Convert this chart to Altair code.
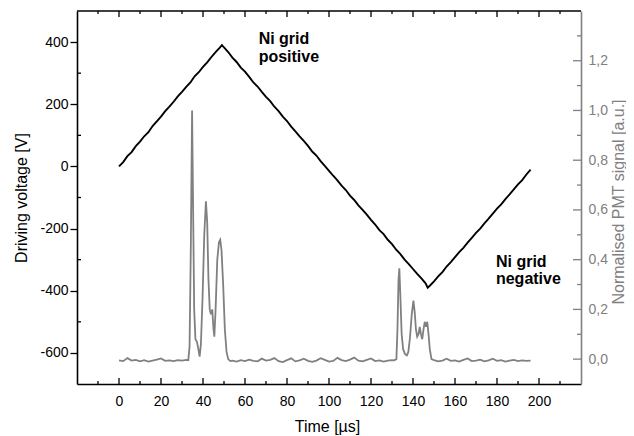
import altair as alt
import pandas as pd

# ---------------- data ----------------
# Driving voltage (black trace)
volt_t = list(range(0, 49, 2)) + [49] + list(range(50, 147, 2)) + [147] + list(range(148, 197, 2))
volt_v = [0, 14, 33, 46, 65, 80, 97, 110, 130, 145, 160, 178, 192, 208, 225, 240, 256, 270, 290, 303,
          320, 335, 352, 368, 382,
          390,
          383, 368, 350, 336, 318, 305, 288, 270, 257, 240, 224, 210, 192, 178, 160, 146, 128, 113, 97, 82,
          66, 48, 35, 17, 2, -14, -30, -45, -62, -76, -94, -108, -125, -140, -155, -172, -187, -205, -218,
          -236, -250, -268, -282, -300, -314, -330, -346, -360, -376,
          -390,
          -384, -370, -354, -340, -322, -308, -292, -276, -262, -245, -230, -214, -200, -183, -168, -152,
          -136, -122, -105, -90, -74, -58, -44, -26, -10]

# Normalised PMT signal (grey trace)
pmt_t = (list(range(0, 33, 2)) +
         [33, 33.6, 34.2, 34.8, 35.3, 35.8, 36.4, 37.1, 37.8, 38.4, 39.0, 39.8, 40.6, 41.4, 42.0, 42.6,
          43.2, 43.8, 44.4, 45.0, 45.4, 46.0, 46.8, 47.6, 48.2, 48.8, 49.6, 50.4, 51.2, 52.0, 53] +
         list(range(54, 131, 2)) +
         [131, 132.1, 132.6, 133.1, 133.5, 134.0, 134.6, 135.3, 136.2, 137.1, 137.8, 138.6, 139.4, 140.2,
          140.8, 141.4, 142.0, 142.6, 143.2, 143.8, 144.4, 145.0, 145.6, 146.2, 146.8, 147.4, 148.0, 148.8] +
         list(range(150, 197, 2)))
pmt_v = ([-0.005, -0.008, 0.004, -0.006, -0.003, -0.009, -0.004, -0.010, -0.006, -0.002, 0.003, -0.007,
          -0.005, -0.008, -0.004, -0.006, -0.003] +
         [-0.004, 0.05, 0.45, 1.0, 0.6, 0.2, 0.08, 0.07, 0.04, 0.01, 0.06, 0.25, 0.5, 0.635, 0.55, 0.32,
          0.2, 0.18, 0.2, 0.12, 0.09, 0.2, 0.4, 0.47, 0.48, 0.44, 0.3, 0.12, 0.03, 0.0, -0.008] +
         [-0.006, -0.010, -0.004, -0.008, -0.002, -0.007, -0.009, 0.002, -0.006, -0.003, 0.004, -0.008,
          -0.012, -0.004, 0.003, -0.009, -0.005, 0.002, -0.007, -0.011, -0.006, 0.004, -0.003, -0.010,
          -0.007, 0.005, -0.004, -0.008, -0.002, 0.006, -0.006, -0.009, -0.003, 0.003, -0.008, -0.005,
          -0.010, -0.006, -0.004] +
         [-0.005, 0.0, 0.12, 0.32, 0.365, 0.25, 0.1, 0.04, 0.02, 0.015, 0.03, 0.09, 0.18, 0.235, 0.19,
          0.12, 0.09, 0.1, 0.13, 0.1, 0.08, 0.12, 0.15, 0.13, 0.15, 0.1, 0.04, 0.0] +
         [-0.004, -0.009, -0.006, 0.002, -0.007, -0.005, -0.010, -0.003, 0.003, -0.008, -0.006, -0.002,
          -0.009, -0.005, 0.002, -0.007, -0.004, -0.010, -0.006, -0.003, -0.008, -0.005, -0.007, -0.006])

# axis tick values
x_major = [0, 20, 40, 60, 80, 100, 120, 140, 160, 180, 200]
x_minor = [-10, 10, 30, 50, 70, 90, 110, 130, 150, 170, 190, 210]
v_major = [-600, -400, -200, 0, 200, 400]
v_minor = [-500, -300, -100, 100, 300]
p_major = [0.0, 0.2, 0.4, 0.6, 0.8, 1.0, 1.2]
p_minor = [0.1, 0.3, 0.5, 0.7, 0.9, 1.1, 1.3]

# annotations
note_text = ["Ni grid", "positive", "Ni grid", "negative"]
note_t = [66.5, 66.5, 179.5, 179.5]
note_v = [393, 336, -324, -378]

# ---------------- chart ----------------
W, H = 504, 373
GRAY = "#808080"
FONT = "Liberation Sans"

XS = alt.Scale(domain=[-20, 220], nice=False, zero=False)
VS = alt.Scale(domain=[-700, 500], nice=False, zero=False)
PS = alt.Scale(domain=[-0.1, 1.4], nice=False, zero=False)

dfv = pd.DataFrame({"t": volt_t, "V": volt_v})
dfp = pd.DataFrame({"t": pmt_t, "P": pmt_v})

volt = alt.Chart(dfv).mark_line(color="black", strokeWidth=1.9).encode(
    x=alt.X("t:Q", scale=XS, axis=alt.Axis(
        orient="bottom", values=x_major, ticks=False, labelPadding=10, domain=True,
        domainColor="black", domainWidth=1.6, labelFontSize=14, labelColor="black", grid=False,
        labelExpr="'' + datum.value",
        title="Time [µs]", titleFontSize=16, titleFontWeight="normal", titleColor="black",
        titleX=W / 2 - 2, titleY=47, titleBaseline="alphabetic", titleAlign="center")),
    y=alt.Y("V:Q", scale=VS, axis=alt.Axis(
        orient="left", values=v_major, tickSize=7, tickColor="black", tickWidth=1.3, labelPadding=2,
        domainColor="black", domainWidth=1.6, labelFontSize=14, labelColor="black", grid=False,
        labelExpr="'' + datum.value",
        title="Driving voltage [V]", titleFontSize=16, titleFontWeight="normal", titleColor="black",
        titleX=-56, titleY=H / 2, titleAngle=270, titleBaseline="middle", titleAlign="center")),
)

pmt = alt.Chart(dfp).mark_line(color=GRAY, strokeWidth=1.8).encode(
    x=alt.X("t:Q", scale=XS, axis=None),
    y=alt.Y("P:Q", scale=PS, axis=alt.Axis(
        orient="right", values=p_major, ticks=False, labelPadding=7,
        labelExpr="replace(format(datum.value, '.1f'), '.', ',')",
        domainColor=GRAY, domainWidth=1.6, labelFontSize=14, labelColor=GRAY, grid=False,
        title="Normalised PMT signal [a.u.]", titleFontSize=16, titleFontWeight="normal",
        titleColor=GRAY, titleX=37, titleY=H / 2 + 4, titleAngle=270, titleBaseline="middle",
        titleAlign="center")),
)


def xticks(vals, y0, y1):
    return alt.Chart(pd.DataFrame({"t": vals})).mark_rule(color="black", strokeWidth=1.3).encode(
        x=alt.X("t:Q", scale=XS, axis=None), y=alt.value(y0), y2=alt.value(y1))


def yticks(vals, scale, x0, x1, color):
    return alt.Chart(pd.DataFrame({"v": vals})).mark_rule(color=color, strokeWidth=1.3).encode(
        y=alt.Y("v:Q", scale=scale, axis=None), x=alt.value(x0), x2=alt.value(x1))


top_line = alt.Chart(pd.DataFrame({"a": [0]})).mark_rule(color="black", strokeWidth=1.6).encode(
    x=alt.value(0), x2=alt.value(W), y=alt.value(0))

notes = alt.Chart(pd.DataFrame({"t": note_t, "v": note_v, "label": note_text})).mark_text(
    font=FONT, fontSize=16, fontWeight="bold", align="left", baseline="alphabetic", color="black"
).encode(x=alt.X("t:Q", scale=XS, axis=None), y=alt.Y("v:Q", scale=VS, axis=None), text="label:N")

chart = alt.layer(
    pmt, volt,
    xticks(x_major, H, H - 6), xticks(x_minor, H, H - 3),
    xticks(x_major, 0, 6), xticks(x_minor, 0, 3),
    yticks(v_minor, VS, 0, 4, "black"),
    yticks(p_major, PS, W, W - 8, GRAY), yticks(p_minor, PS, W, W - 4, GRAY),
    top_line, notes,
).resolve_scale(y="independent").resolve_axis(x="independent").properties(
    width=W, height=H,
    autosize=alt.AutoSizeParams(type="none"),
    padding={"left": 69, "top": 3, "right": 45, "bottom": 52},
).configure(font=FONT).configure_view(stroke=None)

chart.save("out.html", embed_options={"renderer": "svg", "actions": False})
